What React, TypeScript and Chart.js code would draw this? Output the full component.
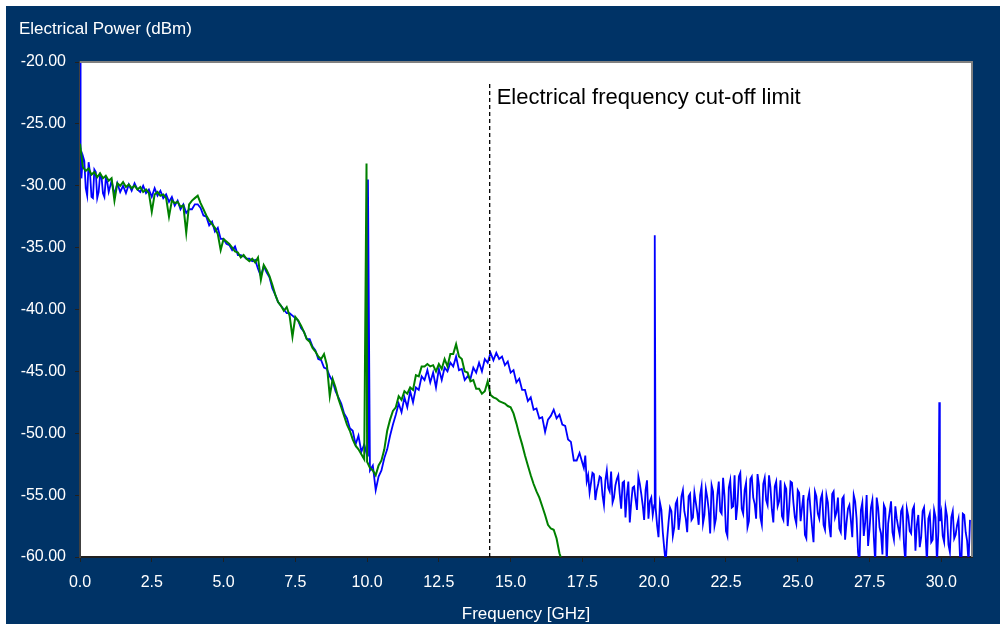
import React, { useEffect, useRef } from "react";
import { Chart, registerables } from "chart.js";

Chart.register(...registerables);

// ---------- data ----------
const FREQ_STEP = 0.1; // GHz between samples of each trace
const X_MIN = 0;
const X_MAX = 31.07;
const X_TICK_STEP = 2.5;
const Y_MIN = -60;
const Y_MAX = -20;
const Y_TICK_STEP = 5;

const yTitle = "Electrical Power (dBm)";
const xTitle = "Frequency [GHz]";
const cutoffLabel = "Electrical frequency cut-off limit";
const cutoffFreq = 14.27;
const cutoffTopDbm = -21.78;
const cutoffLabelDbm = -23.4;

// blue trace, sampled every FREQ_STEP GHz from 0.0 to 31.0
const blueDbm = [
  -20.0, -27.6, -30.2, -28.1, -30.9, -28.7, -31.0, -29.1, -30.6, -29.4,
  -30.5, -29.6, -30.7, -29.8, -30.5, -30.0, -30.6, -29.9, -30.4, -29.8,
  -30.3, -30.5, -30.0, -30.6, -30.3, -30.9, -30.2, -30.8, -30.4, -31.0,
  -30.7, -31.3, -30.9, -31.6, -31.2, -31.9, -31.5, -32.2, -31.9, -31.9,
  -31.5, -31.5, -31.8, -32.4, -32.5, -33.2, -32.9, -33.7, -33.4, -34.3,
  -34.3, -34.7, -34.8, -35.2, -34.9, -35.6, -35.6, -35.7, -35.9, -35.9,
  -36.1, -36.0, -36.7, -37.3, -36.5, -37.0, -37.4, -38.3, -38.8, -39.4,
  -39.7, -40.0, -40.3, -40.3, -40.5, -40.7, -40.9, -41.5, -41.8, -42.4,
  -42.4, -43.0, -43.3, -44.0, -44.1, -44.7, -44.8, -45.4, -45.8, -46.6,
  -47.1, -47.6, -48.4, -48.8, -49.6, -49.8, -50.9, -50.2, -51.5, -50.9,
  -51.8, -53.0, -52.6, -54.6, -53.5, -53.0, -52.0, -51.3, -50.2, -49.3,
  -48.5, -47.6, -48.3, -47.1, -47.9, -46.6, -47.5, -46.3, -46.5, -45.4,
  -45.7, -44.9, -45.9, -45.1, -46.3, -44.8, -45.7, -44.7, -45.0, -44.3,
  -44.6, -43.8, -44.9, -44.8, -45.7, -45.4, -45.6, -44.7, -45.1, -44.3,
  -45.0, -44.0, -44.3, -43.5, -44.1, -43.5, -44.0, -43.8, -44.5, -44.2,
  -45.1, -44.9, -45.9, -45.6, -46.5, -46.5, -47.4, -47.1, -48.1, -48.0,
  -48.8, -48.7, -49.9, -48.9, -48.6, -48.1, -48.8, -48.5, -49.3, -49.4,
  -50.5, -50.7, -52.2, -52.2, -51.6, -52.4, -51.8, -53.4, -54.0, -53.3,
  -54.6, -53.5, -55.0, -53.8, -54.4, -53.1, -55.2, -53.7, -54.9, -54.0,
  -56.8, -53.9, -55.6, -54.3, -56.2, -54.1, -55.8, -54.6, -56.9, -55.2,
  -55.8, -57.4, -55.6, -58.0, -60.5, -57.2, -56.3, -57.6, -55.4, -56.8,
  -54.6, -56.9, -55.1, -57.0, -54.8, -56.4, -55.0, -57.3, -54.5, -56.2,
  -54.2, -57.5, -55.0, -56.3, -53.6, -57.9, -54.4, -56.0, -53.4, -55.8,
  -53.2, -56.5, -54.0, -57.1, -53.5, -55.7, -53.3, -56.8, -54.1, -55.4,
  -53.4, -56.2, -54.3, -55.9, -53.8, -57.0, -54.5, -56.1, -54.0, -56.8,
  -54.6, -57.1, -55.0, -58.5, -54.8, -57.6, -54.7, -56.5, -55.3, -57.4,
  -55.0, -57.5, -54.9, -56.8, -55.2, -58.0, -55.1, -57.2, -55.8, -58.4,
  -55.5, -59.6, -56.2, -58.3, -55.0, -57.8, -55.4, -60.5, -56.0, -58.1,
  -55.8, -60.5, -56.4, -58.0, -55.9, -57.6, -56.3, -58.9, -56.1, -57.9,
  -56.2, -59.5, -56.6, -58.4, -56.0, -60.5, -56.5, -58.6, -56.8, -57.9,
  -56.4, -58.8, -56.7, -59.6, -56.3, -58.2, -56.9, -60.5, -56.6, -58.7, -57.0,
];
// extra blue samples half-way between the regular ones (noisy stretches)
const blueHalfStartA = 0.05;
const blueHalfA = [-29.4, -28.0, -30.8, -29.0, -31.0, -28.9, -30.5, -29.3, -30.9, -29.7];
const blueHalfStartB = 17.55;
const blueHalfB = [
  -52.8, -53.9, -54.8, -53.2, -55.4, -54.1, -53.6, -55.8, -53.0, -54.7,
  -55.6, -54.2, -53.4, -56.1, -53.9, -55.0, -57.2, -54.4, -55.3, -53.5,
  -54.9, -57.0, -53.8, -55.5, -56.6, -56.0, -58.4, -56.2, -59.3, -58.6,
  -56.0, -58.3, -55.7, -57.8, -55.1, -56.3, -58.0, -54.9, -56.8, -55.6,
  -57.4, -54.3, -56.6, -55.2, -58.1, -54.7, -56.9, -53.9, -56.5, -55.1,
  -58.3, -53.8, -55.9, -57.0, -53.5, -56.1, -54.6, -57.6, -53.7, -55.2,
  -56.9, -54.2, -57.4, -53.6, -55.8, -54.4, -57.2, -53.9, -55.5, -56.7,
  -54.2, -57.5, -53.9, -55.6, -57.3, -54.8, -56.0, -58.2, -55.4, -56.3,
  -58.8, -55.1, -56.9, -54.9, -57.8, -55.6, -58.4, -54.7, -56.4, -57.7,
  -55.3, -58.6, -56.1, -57.0, -55.0, -56.9, -60.5, -55.6, -57.2, -59.1,
  -56.0, -58.4, -55.2, -57.6, -59.8, -56.1, -57.3, -55.5, -58.6, -56.9,
  -58.2, -56.0, -60.5, -56.7, -58.1, -55.9, -57.4, -59.2, -56.3, -58.0,
  -56.9, -58.8, -56.2, -60.5, -57.1, -58.3, -56.0, -59.0, -56.8, -58.5,
  -57.4, -59.9, -56.5, -58.0, -60.5,
];
// narrow spectral lines of the blue trace (between samples)
const blueSpikeFreq = [0.02, 10.03, 20.02, 29.93];
const blueSpikeDbm = [-27.0, -29.5, -34.0, -47.5];

// green trace, sampled every FREQ_STEP GHz from 0.0 to 16.8
const greenDbm = [
  -26.6, -28.5, -28.8, -28.6, -29.1, -28.9, -29.3, -29.0, -29.4, -29.2,
  -29.6, -29.4, -31.2, -29.8, -30.0, -29.7, -30.1, -29.9, -30.2, -30.0,
  -30.3, -30.1, -30.5, -30.3, -30.6, -32.1, -30.7, -30.5, -30.8, -30.7,
  -31.0, -32.5, -31.2, -31.4, -31.3, -31.7, -31.6, -33.8, -31.5, -31.2,
  -31.0, -30.8, -31.4, -31.9, -32.4, -32.8, -33.1, -33.4, -33.9, -35.2,
  -34.3, -34.5, -34.7, -35.0, -35.3, -35.4, -35.8, -35.6, -35.9, -36.1,
  -35.9, -36.2, -35.8, -37.6, -36.4, -36.8, -37.3, -38.0, -38.8, -39.4,
  -39.7, -40.1, -39.8, -40.5, -42.2, -40.6, -40.9, -41.3, -41.8, -42.4,
  -42.6, -43.1, -43.4, -43.8, -44.0, -43.6, -44.5, -47.0, -45.6, -46.3,
  -47.2, -47.9, -48.6, -49.3, -49.8, -50.5, -51.0, -51.3, -51.7, -52.1,
  -52.3, -52.8, -53.0, -53.4, -52.6, -52.2, -51.3, -49.8, -48.9, -48.2,
  -47.9, -47.0, -47.3, -46.6, -46.8, -46.3, -46.5, -45.3, -45.4, -44.6,
  -44.6, -44.4, -44.6, -44.5, -45.0, -44.4, -44.8, -44.0, -44.6, -43.6,
  -43.6, -42.8, -43.8, -44.0, -45.0, -45.1, -45.8, -45.7, -46.4, -46.4,
  -46.8, -46.6, -45.8, -46.9, -47.1, -47.2, -47.4, -47.5, -47.6, -47.8,
  -47.9, -48.4, -49.2, -50.1, -50.9, -51.8, -52.6, -53.4, -54.1, -54.7,
  -55.2, -55.9, -56.6, -57.4, -57.7, -57.8, -58.5, -59.7, -60.4,
];
const greenSpikeFreq = [9.98];
const greenSpikeDbm = [-28.2];

// ---------- styling ----------
const NAVY = "#003366";
const FONT = '"Liberation Sans", Arial, Helvetica, sans-serif';
const BLUE = "#0000ff";
const GREEN = "#008000";

type Pt = { x: number; y: number };

const r2 = (v: number) => Math.round(v * 100) / 100;

function samplesFrom(start: number, values: number[]): Pt[] {
  return values.map((v, i) => ({ x: r2(start + i * FREQ_STEP), y: v }));
}

function buildTrace(parts: Pt[][], spikeF: number[], spikeV: number[]): Pt[] {
  const pts: Pt[] = ([] as Pt[]).concat(...parts);
  spikeF.forEach((f, i) => pts.push({ x: f, y: spikeV[i] }));
  pts.sort((a, b) => a.x - b.x);
  return pts;
}

const framePlugin = {
  id: "frame",
  beforeDraw(chart: any) {
    const { ctx, chartArea: a, width, height } = chart;
    ctx.save();
    ctx.fillStyle = "#ffffff";
    ctx.fillRect(0, 0, width, height);
    ctx.fillStyle = NAVY;
    ctx.fillRect(6, 6, width - 6, height - 6);
    ctx.fillStyle = "#ffffff";
    ctx.fillRect(a.left, a.top, a.right - a.left, a.bottom - a.top);
    ctx.fillStyle = "#ffffff";
    ctx.font = `17px ${FONT}`;
    ctx.textBaseline = "alphabetic";
    ctx.textAlign = "left";
    ctx.fillText(yTitle, 19, 34);
    ctx.textAlign = "center";
    ctx.fillText(xTitle, (a.left + a.right) / 2, 619);
    ctx.restore();
  },
  afterDraw(chart: any) {
    const { ctx, chartArea: a, scales } = chart;
    ctx.save();
    ctx.strokeStyle = "#808080";
    ctx.lineWidth = 2;
    ctx.beginPath();
    ctx.moveTo(a.left, a.top);
    ctx.lineTo(a.right, a.top);
    ctx.lineTo(a.right, a.bottom);
    ctx.stroke();
    ctx.fillStyle = "#000000";
    ctx.font = `22px ${FONT}`;
    ctx.textAlign = "left";
    ctx.textBaseline = "alphabetic";
    ctx.fillText(
      cutoffLabel,
      scales.x.getPixelForValue(cutoffFreq) + 7,
      scales.y.getPixelForValue(cutoffLabelDbm)
    );
    ctx.restore();
  },
};

export default function App() {
  const ref = useRef<HTMLCanvasElement | null>(null);

  useEffect(() => {
    document.body.style.margin = "0";
    const canvas = ref.current;
    if (!canvas) return;
    const bluePts = buildTrace(
      [samplesFrom(0, blueDbm), samplesFrom(blueHalfStartA, blueHalfA), samplesFrom(blueHalfStartB, blueHalfB)],
      blueSpikeFreq,
      blueSpikeDbm
    );
    const greenPts = buildTrace([samplesFrom(0, greenDbm)], greenSpikeFreq, greenSpikeDbm);
    const chart = new Chart(canvas, {
      type: "line",
      data: {
        datasets: [
          {
            label: "cut-off",
            data: [
              { x: cutoffFreq, y: cutoffTopDbm },
              { x: cutoffFreq, y: Y_MIN },
            ],
            borderColor: "#000000",
            borderWidth: 1.3,
            borderDash: [4, 3],
            pointRadius: 0,
          },
          {
            label: "green",
            data: greenPts,
            borderColor: GREEN,
            borderWidth: 2,
            pointRadius: 0,
          },
          {
            label: "blue",
            data: bluePts,
            borderColor: BLUE,
            borderWidth: 1.8,
            pointRadius: 0,
          },
        ],
      },
      options: {
        responsive: false,
        animation: false,
        events: [],
        layout: { padding: { left: 6, top: 62, right: 28, bottom: 0 } },
        plugins: { legend: { display: false }, tooltip: { enabled: false } },
        elements: { line: { tension: 0 } },
        scales: {
          x: {
            type: "linear",
            min: X_MIN,
            max: X_MAX,
            border: { display: true, color: "#202020", width: 2 },
            grid: { display: true, drawOnChartArea: false, drawTicks: true, tickLength: 5, color: "#202020" },
            ticks: {
              stepSize: X_TICK_STEP,
              includeBounds: false,
              autoSkip: false,
              maxRotation: 0,
              color: "#ffffff",
              padding: 11,
              font: { size: 16, family: FONT },
              callback: (v: any) => Number(v).toFixed(1),
            },
            afterFit: (s: any) => {
              s.height = 67;
            },
          },
          y: {
            type: "linear",
            min: Y_MIN,
            max: Y_MAX,
            border: { display: true, color: "#404040", width: 2 },
            grid: { display: true, drawOnChartArea: false, drawTicks: true, tickLength: 5, color: "#202020" },
            ticks: {
              stepSize: Y_TICK_STEP,
              color: "#ffffff",
              padding: 9,
              font: { size: 16, family: FONT },
              callback: (v: any) => Number(v).toFixed(2),
            },
            afterFit: (s: any) => {
              s.width = 74;
            },
          },
        },
      },
      plugins: [framePlugin],
    });
    return () => chart.destroy();
  }, []);

  return (
    <div style={{ position: "absolute", left: 0, top: 0, width: 1000, height: 624 }}>
      <canvas ref={ref} width={1000} height={624} style={{ display: "block" }} />
    </div>
  );
}
